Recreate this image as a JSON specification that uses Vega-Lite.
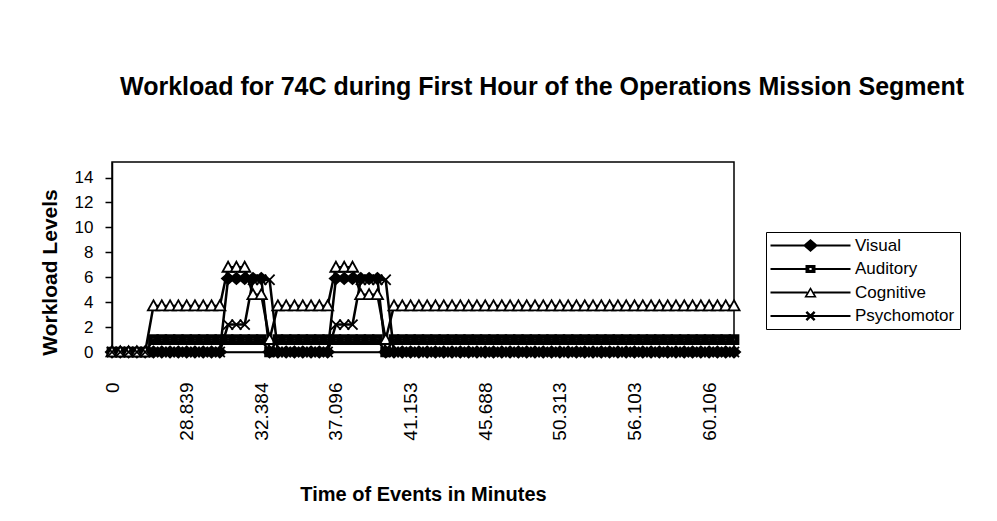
{
  "$schema": "https://vega.github.io/schema/vega-lite/v6.json",
  "autosize": {"type": "none"},
  "width": 622,
  "height": 190,
  "padding": {"left": 112, "top": 162, "right": 263, "bottom": 169},
  "background": "white",
  "config": {
    "font": "Liberation Sans",
    "view": {"stroke": "black", "strokeWidth": 1.5}
  },
  "title": {
    "text": "Workload for 74C during First Hour of the Operations Mission Segment",
    "font": "Liberation Sans",
    "fontSize": 25,
    "fontWeight": "bold",
    "color": "black",
    "anchor": "start",
    "frame": "group",
    "dx": 8,
    "baseline": "alphabetic",
    "offset": 42
  },
  "data": {
    "values": [
      {"t": "0", "Visual": 0, "Auditory": 0, "Cognitive": 0, "Psychomotor": 0},
      {"t": "25.204", "Visual": 0, "Auditory": 0, "Cognitive": 0, "Psychomotor": 0},
      {"t": "25.611", "Visual": 0, "Auditory": 0, "Cognitive": 0, "Psychomotor": 0},
      {"t": "26.018", "Visual": 0, "Auditory": 0, "Cognitive": 0, "Psychomotor": 0},
      {"t": "26.532", "Visual": 0, "Auditory": 0, "Cognitive": 0, "Psychomotor": 0},
      {"t": "27.047", "Visual": 0, "Auditory": 1, "Cognitive": 3.7, "Psychomotor": 0},
      {"t": "27.386", "Visual": 0, "Auditory": 1, "Cognitive": 3.7, "Psychomotor": 0},
      {"t": "27.905", "Visual": 0, "Auditory": 1, "Cognitive": 3.7, "Psychomotor": 0},
      {"t": "28.317", "Visual": 0, "Auditory": 1, "Cognitive": 3.7, "Psychomotor": 0},
      {"t": "28.839", "Visual": 0, "Auditory": 1, "Cognitive": 3.7, "Psychomotor": 0},
      {"t": "29.102", "Visual": 0, "Auditory": 1, "Cognitive": 3.7, "Psychomotor": 0},
      {"t": "29.466", "Visual": 0, "Auditory": 1, "Cognitive": 3.7, "Psychomotor": 0},
      {"t": "29.873", "Visual": 0, "Auditory": 1, "Cognitive": 3.7, "Psychomotor": 0},
      {"t": "30.215", "Visual": 0, "Auditory": 1, "Cognitive": 3.7, "Psychomotor": 0},
      {"t": "30.648", "Visual": 5.9, "Auditory": 1, "Cognitive": 6.8, "Psychomotor": 2.2},
      {"t": "31.027", "Visual": 5.9, "Auditory": 1, "Cognitive": 6.8, "Psychomotor": 2.2},
      {"t": "31.463", "Visual": 5.9, "Auditory": 1, "Cognitive": 6.8, "Psychomotor": 2.2},
      {"t": "31.902", "Visual": 5.9, "Auditory": 1, "Cognitive": 4.6, "Psychomotor": 5.8},
      {"t": "32.384", "Visual": 5.9, "Auditory": 1, "Cognitive": 4.6, "Psychomotor": 5.8},
      {"t": "32.757", "Visual": 0, "Auditory": 0, "Cognitive": 1, "Psychomotor": 5.8},
      {"t": "33.310", "Visual": 0, "Auditory": 1, "Cognitive": 3.7, "Psychomotor": 0},
      {"t": "33.842", "Visual": 0, "Auditory": 1, "Cognitive": 3.7, "Psychomotor": 0},
      {"t": "34.409", "Visual": 0, "Auditory": 1, "Cognitive": 3.7, "Psychomotor": 0},
      {"t": "34.958", "Visual": 0, "Auditory": 1, "Cognitive": 3.7, "Psychomotor": 0},
      {"t": "35.521", "Visual": 0, "Auditory": 1, "Cognitive": 3.7, "Psychomotor": 0},
      {"t": "36.045", "Visual": 0, "Auditory": 1, "Cognitive": 3.7, "Psychomotor": 0},
      {"t": "36.583", "Visual": 0, "Auditory": 1, "Cognitive": 3.7, "Psychomotor": 0},
      {"t": "37.096", "Visual": 5.9, "Auditory": 1, "Cognitive": 6.8, "Psychomotor": 2.2},
      {"t": "37.512", "Visual": 5.9, "Auditory": 1, "Cognitive": 6.8, "Psychomotor": 2.2},
      {"t": "37.980", "Visual": 5.9, "Auditory": 1, "Cognitive": 6.8, "Psychomotor": 2.2},
      {"t": "38.417", "Visual": 5.9, "Auditory": 1, "Cognitive": 4.6, "Psychomotor": 5.8},
      {"t": "38.864", "Visual": 5.9, "Auditory": 1, "Cognitive": 4.6, "Psychomotor": 5.8},
      {"t": "39.305", "Visual": 5.9, "Auditory": 1, "Cognitive": 4.6, "Psychomotor": 5.8},
      {"t": "39.821", "Visual": 0, "Auditory": 0, "Cognitive": 1, "Psychomotor": 5.8},
      {"t": "40.262", "Visual": 0, "Auditory": 1, "Cognitive": 3.7, "Psychomotor": 0},
      {"t": "40.718", "Visual": 0, "Auditory": 1, "Cognitive": 3.7, "Psychomotor": 0},
      {"t": "41.153", "Visual": 0, "Auditory": 1, "Cognitive": 3.7, "Psychomotor": 0},
      {"t": "41.607", "Visual": 0, "Auditory": 1, "Cognitive": 3.7, "Psychomotor": 0},
      {"t": "42.138", "Visual": 0, "Auditory": 1, "Cognitive": 3.7, "Psychomotor": 0},
      {"t": "42.591", "Visual": 0, "Auditory": 1, "Cognitive": 3.7, "Psychomotor": 0},
      {"t": "43.046", "Visual": 0, "Auditory": 1, "Cognitive": 3.7, "Psychomotor": 0},
      {"t": "43.529", "Visual": 0, "Auditory": 1, "Cognitive": 3.7, "Psychomotor": 0},
      {"t": "44.003", "Visual": 0, "Auditory": 1, "Cognitive": 3.7, "Psychomotor": 0},
      {"t": "44.712", "Visual": 0, "Auditory": 1, "Cognitive": 3.7, "Psychomotor": 0},
      {"t": "45.214", "Visual": 0, "Auditory": 1, "Cognitive": 3.7, "Psychomotor": 0},
      {"t": "45.688", "Visual": 0, "Auditory": 1, "Cognitive": 3.7, "Psychomotor": 0},
      {"t": "46.170", "Visual": 0, "Auditory": 1, "Cognitive": 3.7, "Psychomotor": 0},
      {"t": "46.721", "Visual": 0, "Auditory": 1, "Cognitive": 3.7, "Psychomotor": 0},
      {"t": "47.294", "Visual": 0, "Auditory": 1, "Cognitive": 3.7, "Psychomotor": 0},
      {"t": "47.803", "Visual": 0, "Auditory": 1, "Cognitive": 3.7, "Psychomotor": 0},
      {"t": "48.356", "Visual": 0, "Auditory": 1, "Cognitive": 3.7, "Psychomotor": 0},
      {"t": "48.870", "Visual": 0, "Auditory": 1, "Cognitive": 3.7, "Psychomotor": 0},
      {"t": "49.402", "Visual": 0, "Auditory": 1, "Cognitive": 3.7, "Psychomotor": 0},
      {"t": "49.857", "Visual": 0, "Auditory": 1, "Cognitive": 3.7, "Psychomotor": 0},
      {"t": "50.313", "Visual": 0, "Auditory": 1, "Cognitive": 3.7, "Psychomotor": 0},
      {"t": "50.965", "Visual": 0, "Auditory": 1, "Cognitive": 3.7, "Psychomotor": 0},
      {"t": "51.628", "Visual": 0, "Auditory": 1, "Cognitive": 3.7, "Psychomotor": 0},
      {"t": "52.314", "Visual": 0, "Auditory": 1, "Cognitive": 3.7, "Psychomotor": 0},
      {"t": "52.980", "Visual": 0, "Auditory": 1, "Cognitive": 3.7, "Psychomotor": 0},
      {"t": "53.607", "Visual": 0, "Auditory": 1, "Cognitive": 3.7, "Psychomotor": 0},
      {"t": "54.281", "Visual": 0, "Auditory": 1, "Cognitive": 3.7, "Psychomotor": 0},
      {"t": "54.893", "Visual": 0, "Auditory": 1, "Cognitive": 3.7, "Psychomotor": 0},
      {"t": "55.502", "Visual": 0, "Auditory": 1, "Cognitive": 3.7, "Psychomotor": 0},
      {"t": "56.103", "Visual": 0, "Auditory": 1, "Cognitive": 3.7, "Psychomotor": 0},
      {"t": "56.588", "Visual": 0, "Auditory": 1, "Cognitive": 3.7, "Psychomotor": 0},
      {"t": "57.032", "Visual": 0, "Auditory": 1, "Cognitive": 3.7, "Psychomotor": 0},
      {"t": "57.516", "Visual": 0, "Auditory": 1, "Cognitive": 3.7, "Psychomotor": 0},
      {"t": "57.994", "Visual": 0, "Auditory": 1, "Cognitive": 3.7, "Psychomotor": 0},
      {"t": "58.461", "Visual": 0, "Auditory": 1, "Cognitive": 3.7, "Psychomotor": 0},
      {"t": "58.937", "Visual": 0, "Auditory": 1, "Cognitive": 3.7, "Psychomotor": 0},
      {"t": "59.380", "Visual": 0, "Auditory": 1, "Cognitive": 3.7, "Psychomotor": 0},
      {"t": "59.741", "Visual": 0, "Auditory": 1, "Cognitive": 3.7, "Psychomotor": 0},
      {"t": "60.106", "Visual": 0, "Auditory": 1, "Cognitive": 3.7, "Psychomotor": 0},
      {"t": "60.583", "Visual": 0, "Auditory": 1, "Cognitive": 3.7, "Psychomotor": 0},
      {"t": "61.027", "Visual": 0, "Auditory": 1, "Cognitive": 3.7, "Psychomotor": 0},
      {"t": "61.492", "Visual": 0, "Auditory": 1, "Cognitive": 3.7, "Psychomotor": 0}
    ]
  },
  "transform": [
    {"fold": ["Visual", "Auditory", "Cognitive", "Psychomotor"], "as": ["series", "level"]}
  ],
  "encoding": {
    "x": {
      "field": "t",
      "type": "ordinal",
      "sort": null,
      "scale": {"type": "point", "padding": 0},
      "axis": {
        "title": "Time of Events in Minutes",
        "titleFont": "Liberation Sans",
        "titleFontSize": 20,
        "titleFontWeight": "bold",
        "titleColor": "black",
        "titlePadding": 44,
        "values": ["0", "28.839", "32.384", "37.096", "41.153", "45.688", "50.313", "56.103", "60.106"],
        "labelAngle": -90,
        "labelFont": "Liberation Sans",
        "labelFontSize": 19,
        "labelColor": "black",
        "labelPadding": 30,
        "labelOverlap": false,
        "ticks": false,
        "domainColor": "black",
        "domainWidth": 1.5,
        "grid": false,
        "encode": {
          "labels": {
            "update": {
              "angle": {"value": {"expr": "datum.value === '0' ? 0 : -90"}},
              "baseline": {"value": {"expr": "datum.value === '0' ? 'top' : 'middle'"}},
              "dx": {"value": {"expr": "datum.value === '0' ? -9 : 0"}}
            }
          }
        }
      }
    },
    "y": {
      "field": "level",
      "type": "quantitative",
      "scale": {"domain": [0, 15.25], "nice": false, "zero": true},
      "axis": {
        "title": "Workload Levels",
        "titleFont": "Liberation Sans",
        "titleFontSize": 21,
        "titleFontWeight": "bold",
        "titleColor": "black",
        "titlePadding": 14,
        "titleY": 110,
        "values": [0, 2, 4, 6, 8, 10, 12, 14],
        "labelFont": "Liberation Sans",
        "labelFontSize": 17,
        "labelColor": "black",
        "labelPadding": 12,
        "tickSize": 7,
        "tickColor": "black",
        "tickWidth": 1.5,
        "domainColor": "black",
        "domainWidth": 1.5,
        "grid": false,
        "encode": {
          "ticks": {"update": {"x": {"value": 7}, "x2": {"value": -7}}}
        }
      }
    }
  },
  "resolve": {"scale": {"shape": "independent"}},
  "layer": [
    {
      "mark": {"type": "line", "color": "black", "strokeWidth": 2.5, "clip": false},
      "encoding": {"detail": {"field": "series", "type": "nominal"}}
    },
    {
      "mark": {"type": "point", "filled": true, "stroke": "black", "strokeWidth": 1.8, "size": 125, "opacity": 1, "clip": false},
      "encoding": {
        "shape": {
          "field": "series",
          "type": "nominal",
          "scale": {
            "domain": ["Visual", "Auditory", "Cognitive", "Psychomotor"],
            "range": [
              "M0,-1L1.1,0L0,1L-1.1,0Z",
              "M-0.8,-0.8H0.8V0.8H-0.8ZM-0.3,-0.3V0.3H0.3V-0.3Z",
              "M0,-1L1,0.8H-1Z",
              "M-0.9,-0.9L0.9,0.9M0.9,-0.9L-0.9,0.9"
            ]
          },
          "legend": null
        },
        "fill": {
          "field": "series",
          "type": "nominal",
          "scale": {
            "domain": ["Visual", "Auditory", "Cognitive", "Psychomotor"],
            "range": ["black", "black", "white", "transparent"]
          },
          "legend": null
        }
      }
    },
    {
      "mark": {"type": "point", "filled": true, "color": "black", "size": 0, "strokeWidth": 0, "clip": false},
      "encoding": {
        "shape": {
          "field": "series",
          "type": "nominal",
          "scale": {
            "domain": ["Visual", "Auditory", "Cognitive", "Psychomotor"],
            "range": [
              "M-8,-0.2H8V0.2H-8ZM0,-1.3L1.5,0L0,1.3L-1.5,0Z",
              "M-8,-0.2H-1V0.2H-8ZM1,-0.2H8V0.2H1ZM-1,-0.8H1V0.8H-1ZM-0.22,-0.2V0.2H0.22V-0.2Z",
              "M-8,-0.2H-0.64V0.2H-8ZM0.64,-0.2H8V0.2H0.64ZM0,-1.1L1.25,1H-1.25ZM0,-0.5L-0.68,0.68H0.68Z",
              "M-8,-0.2H8V0.2H-8ZM-0.65,-1L1,0.65L0.65,1L-1,-0.65ZM0.65,-1L1,-0.65L-0.65,1L-1,0.65Z"
            ]
          },
          "legend": {
            "title": null,
            "orient": "none",
            "legendX": 654,
            "legendY": 70,
            "padding": 5,
            "strokeColor": "black",
            "fillColor": "white",
            "labelFont": "Liberation Sans",
            "labelFontSize": 17,
            "labelColor": "black",
            "symbolSize": 100,
            "symbolStrokeWidth": 0,
            "symbolFillColor": "black",
            "symbolOpacity": 1,
            "symbolOffset": 31,
            "labelOffset": 36,
            "rowPadding": 5.5
          }
        }
      }
    }
  ]
}
